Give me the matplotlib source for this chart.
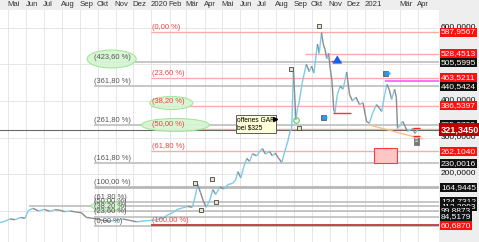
import matplotlib
matplotlib.use('Agg')
import matplotlib.pyplot as plt
import matplotlib.dates as mdates
from matplotlib.patches import Ellipse, Rectangle
from matplotlib.collections import LineCollection
import pandas as pd
import numpy as np

plt.rcParams['font.family'] = ['Liberation Sans', 'DejaVu Sans']

# ── DATA ──────────────────────────────────────────────────────────────────────
dates = ['2019-04-17', '2019-04-26', '2019-05-04', '2019-05-13', '2019-05-22',
         '2019-05-30', '2019-06-04', '2019-06-12', '2019-06-22', '2019-07-02',
         '2019-07-11', '2019-07-20', '2019-07-28', '2019-08-06', '2019-08-15',
         '2019-08-24', '2019-09-03', '2019-09-12', '2019-09-21', '2019-09-30',
         '2019-10-10', '2019-10-22', '2019-11-03', '2019-11-13', '2019-11-25',
         '2019-12-07', '2019-12-16', '2019-12-24', '2020-01-01', '2020-01-10',
         '2020-01-20', '2020-01-28', '2020-02-06', '2020-02-14', '2020-02-23',
         '2020-03-03', '2020-03-11', '2020-03-16', '2020-03-20', '2020-03-25',
         '2020-03-30', '2020-04-04', '2020-04-10', '2020-04-15', '2020-04-20',
         '2020-04-27', '2020-05-04', '2020-05-11', '2020-05-19', '2020-05-24',
         '2020-05-28', '2020-06-02', '2020-06-07', '2020-06-12', '2020-06-17',
         '2020-06-22', '2020-06-29', '2020-07-04', '2020-07-09', '2020-07-14',
         '2020-07-21', '2020-07-26', '2020-07-31', '2020-08-05', '2020-08-11',
         '2020-08-15', '2020-08-21', '2020-08-25', '2020-08-28', '2020-08-31',
         '2020-09-02', '2020-09-04', '2020-09-07', '2020-09-10', '2020-09-15',
         '2020-09-22', '2020-09-27', '2020-10-01', '2020-10-05', '2020-10-11',
         '2020-10-14', '2020-10-18', '2020-10-21', '2020-10-24', '2020-10-27',
         '2020-10-30', '2020-11-02', '2020-11-05', '2020-11-08', '2020-11-10',
         '2020-11-14', '2020-11-19', '2020-11-24', '2020-11-30', '2020-12-05',
         '2020-12-10', '2020-12-16', '2020-12-22', '2020-12-28', '2021-01-03',
         '2021-01-08', '2021-01-13', '2021-01-20', '2021-01-25', '2021-01-29',
         '2021-02-03', '2021-02-07', '2021-02-11', '2021-02-15', '2021-02-20',
         '2021-02-23', '2021-02-25', '2021-03-02', '2021-03-06', '2021-03-10',
         '2021-03-14', '2021-03-19', '2021-03-23', '2021-03-27', '2021-03-31']
prices = [68, 72, 78, 76, 82,
          80, 100, 107, 100, 104,
          99, 103, 102, 98, 100,
          97, 95, 82, 80, 78,
          74, 72, 75, 78, 74,
          70, 72, 73, 74, 76,
          80, 88, 95, 104, 108,
          112, 110, 140, 172, 150,
          126, 110, 130, 158, 145,
          165, 160, 172, 175, 185,
          207, 190, 220, 243, 235,
          256, 250, 262, 270, 255,
          262, 250, 258, 245, 232,
          255, 288, 315, 325, 480,
          420, 348, 380, 398, 450,
          500, 480, 495, 476, 555,
          530, 586, 555, 541, 515,
          530, 488, 452, 375, 368,
          417, 440, 432, 479, 417,
          400, 410, 390, 395, 344,
          339, 365, 390, 380, 371,
          417, 445, 430, 404, 432,
          410, 325, 335, 344, 330,
          317, 321, 325, 311, 321.345]

month_labels = ['Mai', 'Jun', 'Jul', 'Aug', 'Sep', 'Okt', 'Nov', 'Dez',
                '2020', 'Feb', 'Mär', 'Apr', 'Mai', 'Jun', 'Jul', 'Aug',
                'Sep', 'Okt', 'Nov', 'Dez', '2021', '', 'Mär', 'Apr']

# Fibonacci set A (extension, grey)
fib_a_levels = [59.6739, 84.5179, 99.8873, 112.3093, 124.7312, 164.9445,
                230.0016, 335.2720, 440.5424, 505.5995]
fib_a_labels = ['(0,00 %)', '(23,60 %)', '(38,20 %)', '(50,00 %)', '(61,80 %)',
                '(100,00 %)', '(161,80 %)', '(261,80 %)', '(361,80 %)', '(423,60 %)']
fib_a_start = '2019-09-24'

# Fibonacci set B (retracement, red)
fib_b_levels = [587.9567, 463.5211, 386.5397, 324.3218, 262.1040, 60.6870]
fib_b_labels = ['(0,00 %)', '(23,60 %)', '(38,20 %)', '(50,00 %)', '(61,80 %)', '(100,00 %)']
fib_b_start = '2020-01-01'

resistance = 528.4513
last_price = 321.3450
grid_prices = [600, 400, 300, 200]

red_tags = [587.9567, 528.4513, 463.5211, 386.5397, 262.1040, 60.6870]
black_tags = [505.5995, 440.5424, 335.2720, 230.0016, 164.9445,
              124.7312, 112.3093, 99.8873, 84.5179]

note_dates = ['2020-03-15', '2020-04-14', '2020-04-21', '2020-03-25',
              '2020-09-10', '2020-10-13', '2020-08-26']
note_prices = [176, 187, 124, 102, 327, 604, 487]
blue_note_dates = ['2021-02-04', '2020-10-20']
blue_note_prices = [475, 356]

# ── FIGURE ────────────────────────────────────────────────────────────────────
fig = plt.figure(figsize=(4.79, 2.42), dpi=100)
fig.patch.set_facecolor('#eeeeee')
ax = fig.add_axes([0, 0, 439 / 479, 232 / 242])
ax.set_facecolor('white')

d = pd.to_datetime(dates)
x = mdates.date2num(d)
x0 = mdates.date2num(pd.Timestamp('2019-04-17'))
x1 = mdates.date2num(pd.Timestamp('2021-05-07'))
ax.set_xlim(x0, x1)
ax.set_ylim(15.1, 648)
for sp in ax.spines.values():
    sp.set_visible(False)
ax.set_xticks([]); ax.set_yticks([])

# grid
months = mdates.date2num(pd.date_range('2019-05-01', '2021-04-01', freq='MS'))
for m in months:
    ax.axvline(m, color='#e6e6e6', lw=0.7, zorder=0)
for g in [100, 200, 300, 400, 500, 600]:
    ax.axhline(g, color='#e6e6e6', lw=0.7, zorder=0)
for m, lab in zip(months, month_labels):
    ax.text(m - 1.5, 1.0 + 5 / 232, lab, transform=ax.get_xaxis_transform(),
            ha='left', va='center', fontsize=5.6, color='#333333', clip_on=False)

# fib set A
xa = mdates.date2num(pd.Timestamp(fib_a_start))
for lev, lab in zip(fib_a_levels, fib_a_labels):
    lw = 2.0 if lab == '(100,00 %)' else 1.1
    start = mdates.date2num(pd.Timestamp('2019-06-05')) if lab == '(50,00 %)' else xa
    ax.hlines(lev, start, x1, color='#b8b8b8', lw=lw, zorder=1)
    ax.text(xa + 1, lev + 3, lab, fontsize=5.4, color='#555555', ha='left',
            va='bottom', zorder=6)

# fib set B
xb = mdates.date2num(pd.Timestamp(fib_b_start))
for lev, lab in zip(fib_b_levels, fib_b_labels):
    if lab == '(100,00 %)':
        ax.hlines(lev, xb, x1, color='#c03a3a', lw=1.3, zorder=1)
    else:
        ax.hlines(lev, xb, x1, color='#ffaaaa', lw=1.0, zorder=1)
    ax.text(xb + 1, lev + 3, lab, fontsize=5.4, color='#ee4040', ha='left',
            va='bottom', zorder=6)

ax.hlines(resistance, mdates.date2num(pd.Timestamp('2020-09-20')), x1,
          color='#ffaaaa', lw=1.0, zorder=1)
ax.axhline(last_price, color='#6a6a6a', lw=0.8, zorder=2)

# green highlight ellipses
for cx, cy, w, h in [('2019-10-25', 514.3, 84, 49), ('2019-10-18', 113.3, 56, 24.5),
                     ('2020-02-04', 394.3, 73.5, 35.5), ('2020-02-11', 334.3, 116, 35.5)]:
    e = Ellipse((mdates.date2num(pd.Timestamp(cx)), cy), w, h,
                facecolor='#d6f5d2', edgecolor='#9ee596', lw=0.8, alpha=0.92, zorder=4)
    ax.add_patch(e)

# price path
pts = np.column_stack([x, prices])
segs = np.stack([pts[:-1], pts[1:]], axis=1)
cols = ['#7ccbe9' if b >= a else '#8a8a8a' for a, b in zip(prices[:-1], prices[1:])]
ax.add_collection(LineCollection(segs, colors=cols, lw=1.0, zorder=5))

def dn(s):
    return mdates.date2num(pd.Timestamp(s))

# drawings
ax.hlines(366, dn('2020-11-06'), dn('2020-12-08'), color='#ff3030', lw=1.0, zorder=5)
ax.hlines(509, dn('2020-11-04'), dn('2020-11-21'), color='#ff3030', lw=1.0, zorder=5)
ax.annotate('', xy=(dn('2020-11-14'), 532), xytext=(dn('2020-11-14'), 494),
            arrowprops=dict(arrowstyle='simple,head_width=0.7,head_length=0.6,tail_width=0.45',
                            color='#1660f0', lw=0), zorder=7)
ax.hlines(453, dn('2021-02-03'), x1, color='#ff55ff', lw=1.2, zorder=5)
ax.plot([dn('2021-01-08'), dn('2021-04-09')], [334.3, 296], color='#f5c08c', lw=1.0, zorder=4)
ax.add_patch(Rectangle((dn('2021-01-15'), 230.6), dn('2021-02-25') - dn('2021-01-15'), 40.9,
                       facecolor='#ffc6c6', edgecolor='#ff3a3a', lw=0.8, zorder=4))
ax.hlines([325, 305], dn('2021-03-23'), dn('2021-04-05'), color='#ff2020', lw=1.0, zorder=6)
ax.text(dn('2021-03-29'), 290, '≡', fontsize=4, ha='center', va='center', color='white',
        bbox=dict(boxstyle='square,pad=0.15', fc='#777777', ec='#555555', lw=0.4), zorder=7)

ax.text(dn('2020-05-27'), 356, 'offenes GAP\nbei $325', fontsize=4.8, ha='left', va='top',
        linespacing=1.1, color='black', zorder=8,
        bbox=dict(boxstyle='square,pad=0.25', fc='#ffffd8', ec='#444444', lw=0.6))
ax.plot(dn('2020-07-31'), 350, marker='>', ms=3, color='black', zorder=8)
ax.plot(dn('2020-09-05'), 348, marker='o', ms=4, mfc='none', mec='#5ccc5c', mew=0.8, zorder=8)

ax.plot(pd.to_datetime(note_dates), note_prices, ls='none', marker='s', ms=3.2,
        mfc='#e8e6c8', mec='#444444', mew=0.6, zorder=8)
ax.plot(pd.to_datetime(blue_note_dates), blue_note_prices, ls='none', marker='s', ms=3.6,
        mfc='#4f86b8', mec='#2a4f70', mew=0.5, zorder=8)
bx = [dn(s) + 4 for s in blue_note_dates]
ax.plot(bx, blue_note_prices, ls='none', marker='>', ms=2.5, color='#2a9df4', zorder=8)

# right-hand price tags
yt = ax.get_yaxis_transform()
tx = 1.0 + 2 / 439
def fmt(v):
    return f'{v:.4f}'.replace('.', ',')

for g in grid_prices:
    ax.text(tx, g + 4, fmt(g), transform=yt, fontsize=6, color='#111111',
            ha='left', va='center', clip_on=False, zorder=9)
for v in black_tags:
    ax.text(tx, v, fmt(v), transform=yt, fontsize=6, color='white', ha='left', va='center',
            clip_on=False, zorder=10,
            bbox=dict(boxstyle='square,pad=0.12', fc='#111111', ec='none'))
for v in red_tags:
    ax.text(tx, v, fmt(v), transform=yt, fontsize=6, color='white', ha='left', va='center',
            clip_on=False, zorder=11,
            bbox=dict(boxstyle='square,pad=0.12', fc='#ff1010', ec='none'))
ax.text(tx, last_price, fmt(last_price), transform=yt, fontsize=6.6, color='white',
        fontweight='bold', ha='left', va='center', clip_on=False, zorder=12,
        bbox=dict(boxstyle='square,pad=0.2', fc='#b80000', ec='none'))

fig.savefig('out.png', dpi=100, facecolor=fig.get_facecolor())
